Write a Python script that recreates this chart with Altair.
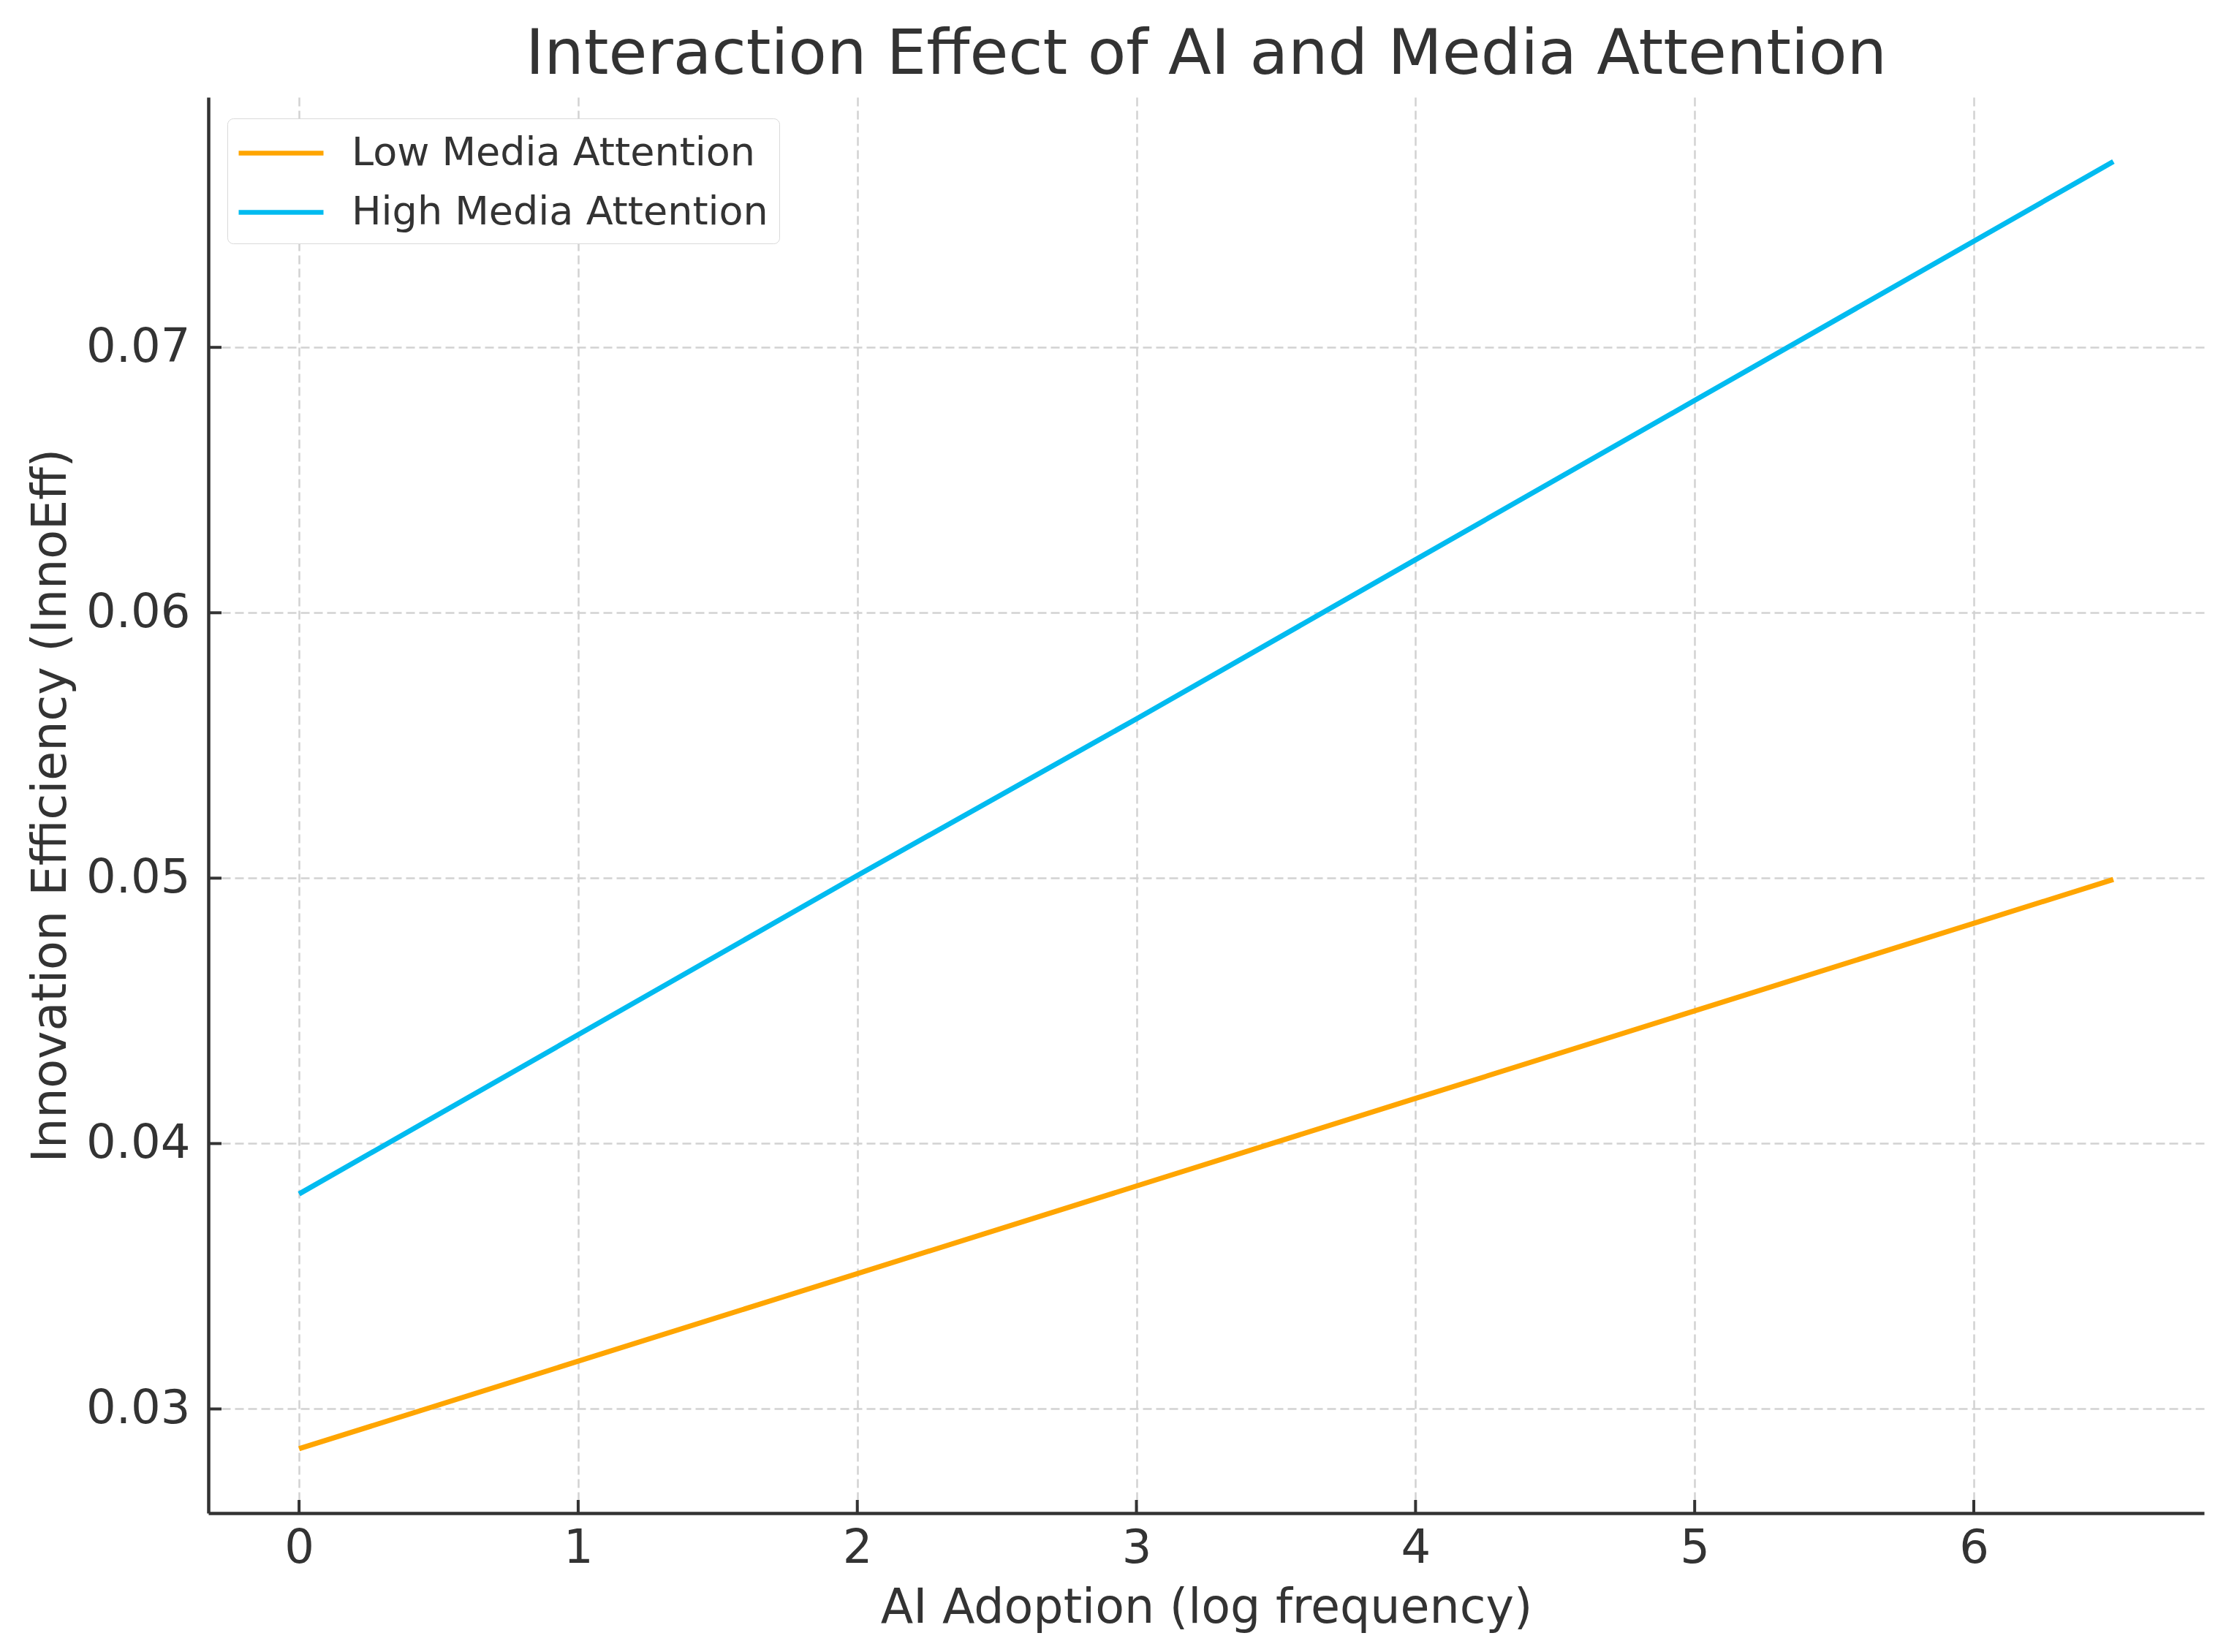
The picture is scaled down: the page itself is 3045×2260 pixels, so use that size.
import altair as alt
import pandas as pd

# ---- data ----
ai_adoption = [0, 1, 2, 3, 4, 5, 6, 6.5]
low_media = [0.0285, 0.0318, 0.0351, 0.0384, 0.0417, 0.0450, 0.0483, 0.04995]
high_media = [0.0381, 0.0441, 0.0501, 0.0560, 0.0620, 0.0680, 0.0740, 0.0770]
series_names = ["Low Media Attention", "High Media Attention"]
series_colors = ["#FFA500", "#00BBF0"]
x_ticks = [0, 1, 2, 3, 4, 5, 6]
y_ticks = [0.03, 0.04, 0.05, 0.06, 0.07]

rows = []
for name, vals in zip(series_names, [low_media, high_media]):
    for x, y in zip(ai_adoption, vals):
        rows.append({"x": x, "y": y, "series": name})
df = pd.DataFrame(rows)

W, H = 2730, 1937
FONT = "DejaVu Sans"
TXT = "#333333"
TICK_LEN = 18

x_scale = alt.Scale(domain=[-0.325, 6.825], nice=False, zero=False)
y_scale = alt.Scale(domain=[0.026075, 0.079425], nice=False, zero=False)
x_axis = alt.Axis(title="AI Adoption (log frequency)", values=x_ticks, format="d")
y_axis = alt.Axis(title="Innovation Efficiency (InnoEff)", values=y_ticks, format=".2f")

lines = alt.Chart(df).mark_line(strokeWidth=7).encode(
    x=alt.X("x:Q", scale=x_scale, axis=x_axis),
    y=alt.Y("y:Q", scale=y_scale, axis=y_axis),
    color=alt.Color("series:N",
                    scale=alt.Scale(domain=series_names, range=series_colors),
                    sort=series_names,
                    legend=alt.Legend(title=None, orient="none", legendX=26, legendY=29,
                                      symbolType="M-2,0H2", symbolSize=3364,
                                      symbolStrokeWidth=6.5, symbolOffset=26,
                                      labelFontSize=54,
                                      labelFont=FONT, labelColor=TXT, labelOffset=64,
                                      labelLimit=2000,
                                      rowPadding=21, padding=15,
                                      strokeColor="#d9d9d9", fillColor="#ffffff",
                                      cornerRadius=8)),
)

xt = alt.Chart(pd.DataFrame({"x": x_ticks})).mark_rule(color="#333333", strokeWidth=4).encode(
    x=alt.X("x:Q", scale=x_scale, axis=x_axis),
    y=alt.value(H), y2=alt.value(H - TICK_LEN),
)
yt = alt.Chart(pd.DataFrame({"y": y_ticks})).mark_rule(color="#333333", strokeWidth=4).encode(
    y=alt.Y("y:Q", scale=y_scale, axis=y_axis),
    x=alt.value(0), x2=alt.value(TICK_LEN),
)

chart = alt.layer(lines, xt, yt).properties(
    width=W, height=H,
    title=alt.TitleParams("Interaction Effect of AI and Media Attention", fontSize=86,
                          font=FONT, color=TXT, fontWeight="normal", anchor="middle", offset=14),
    autosize=alt.AutoSizeParams(type="none"),
    padding={"left": 277, "top": 125, "right": 22, "bottom": 182},
).configure_view(stroke=None).configure_axis(
    domainColor="#333333", domainWidth=4.5, tickSize=0,
    grid=True, gridColor="#d2d2d2", gridWidth=2.5, gridDash=[12, 6],
    labelFont=FONT, labelFontSize=64, labelColor=TXT,
    titleFont=FONT, titleFontSize=65, titleColor=TXT, titleFontWeight="normal",
).configure_axisX(labelPadding=16, titlePadding=18).configure_axisY(labelPadding=25, titlePadding=14)

chart.save("out.html", embed_options={"renderer": "svg", "actions": False})
